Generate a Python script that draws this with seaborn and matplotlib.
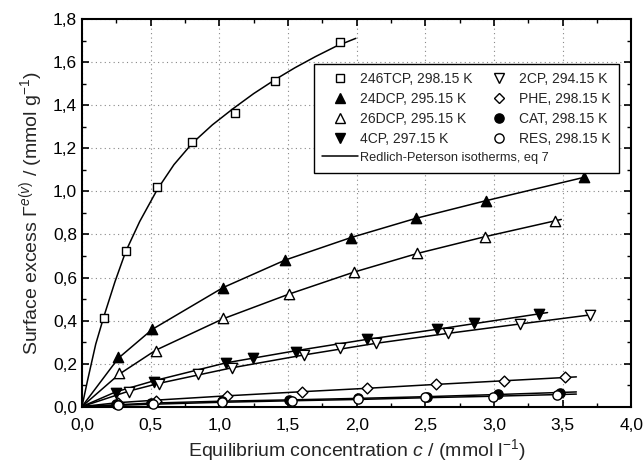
import matplotlib
matplotlib.use("Agg")
import matplotlib.pyplot as plt
from matplotlib.lines import Line2D
from matplotlib.ticker import MultipleLocator, FuncFormatter
import seaborn as sns
import pandas as pd

# ---------------- data ----------------
tcp246_x = [0.16, 0.318, 0.549, 0.804, 1.115, 1.406, 1.877]
tcp246_y = [0.410, 0.723, 1.022, 1.232, 1.364, 1.515, 1.697]
dcp24_x = [0.265, 0.512, 1.027, 1.479, 1.960, 2.431, 2.941, 3.658]
dcp24_y = [0.232, 0.359, 0.553, 0.681, 0.786, 0.875, 0.957, 1.066]
dcp26_x = [0.27, 0.537, 1.027, 1.508, 1.98, 2.443, 2.936, 3.444]
dcp26_y = [0.157, 0.260, 0.410, 0.523, 0.625, 0.712, 0.790, 0.864]
cp4_x = [0.245, 0.525, 1.047, 1.246, 1.561, 2.072, 2.582, 2.856, 3.325]
cp4_y = [0.064, 0.115, 0.201, 0.224, 0.255, 0.312, 0.359, 0.387, 0.430]
cp2_x = [0.342, 0.561, 0.848, 1.09, 1.617, 1.877, 2.14, 2.662, 3.189, 3.699]
cp2_y = [0.069, 0.103, 0.151, 0.178, 0.240, 0.271, 0.294, 0.340, 0.384, 0.426]
phe_x = [0.26, 0.541, 1.059, 1.60, 2.079, 2.577, 3.075, 3.519]
phe_y = [0.016, 0.027, 0.049, 0.069, 0.085, 0.105, 0.120, 0.136]
cat_x = [0.25, 0.50, 1.02, 1.51, 2.01, 2.509, 3.026, 3.48]
cat_y = [0.014, 0.018, 0.025, 0.030, 0.038, 0.046, 0.058, 0.064]
res_x = [0.265, 0.517, 1.022, 1.528, 2.013, 2.499, 2.99, 3.456]
res_y = [0.008, 0.010, 0.020, 0.027, 0.033, 0.043, 0.046, 0.053]

# Redlich-Peterson fitted curves (vertices)
fit_tcp246_x = [0.0, 0.04, 0.10, 0.16, 0.24, 0.318, 0.42, 0.549, 0.67,
                0.804, 0.95, 1.10, 1.25, 1.406, 1.55, 1.70, 1.85, 1.994]
fit_tcp246_y = [0.0, 0.12, 0.29, 0.42, 0.58, 0.720, 0.86, 1.010, 1.125,
                1.225, 1.31, 1.385, 1.455, 1.520, 1.575, 1.627, 1.675, 1.712]
fit_dcp24_x = [0.0, 0.265, 0.512, 1.027, 1.479, 1.960, 2.431, 2.941, 3.658]
fit_dcp24_y = [0.0, 0.225, 0.359, 0.553, 0.681, 0.786, 0.875, 0.957, 1.066]
fit_dcp26_x = [0.0, 0.27, 0.537, 1.027, 1.508, 1.98, 2.443, 2.936, 3.49]
fit_dcp26_y = [0.0, 0.150, 0.262, 0.408, 0.523, 0.625, 0.712, 0.790, 0.870]
fit_cp4_x = [0.0, 0.245, 0.525, 1.047, 1.561, 2.072, 2.582, 3.39]
fit_cp4_y = [0.0, 0.068, 0.120, 0.203, 0.260, 0.312, 0.359, 0.437]
fit_cp2_x = [0.0, 0.342, 0.561, 1.09, 1.617, 2.14, 2.662, 3.189, 3.699]
fit_cp2_y = [0.0, 0.072, 0.108, 0.180, 0.240, 0.294, 0.340, 0.384, 0.426]
fit_phe_x = [0.0, 0.26, 0.541, 1.059, 1.60, 2.079, 2.577, 3.075, 3.60]
fit_phe_y = [0.0, 0.018, 0.030, 0.050, 0.069, 0.085, 0.103, 0.120, 0.138]
fit_cat_x = [0.0, 0.5, 1.02, 1.51, 2.01, 2.509, 3.026, 3.60]
fit_cat_y = [0.0, 0.016, 0.025, 0.031, 0.038, 0.046, 0.056, 0.068]
fit_res_x = [0.0, 0.517, 1.022, 1.528, 2.013, 2.499, 2.99, 3.60]
fit_res_y = [0.0, 0.011, 0.020, 0.027, 0.033, 0.041, 0.048, 0.058]

labels = ["246TCP, 298.15 K", "24DCP, 295.15 K", "26DCP, 295.15 K",
          "4CP, 297.15 K", "2CP, 294.15 K", "PHE, 298.15 K",
          "CAT, 298.15 K", "RES, 298.15 K"]
line_label = "Redlich-Peterson isotherms, eq 7"
x_ticks = [0.0, 0.5, 1.0, 1.5, 2.0, 2.5, 3.0, 3.5, 4.0]
y_ticks = [0.0, 0.2, 0.4, 0.6, 0.8, 1.0, 1.2, 1.4, 1.6, 1.8]

# ---------------- style ----------------
sns.set_theme(style="ticks")
plt.rcParams["font.family"] = ["Liberation Sans", "DejaVu Sans"]
plt.rcParams["mathtext.fontset"] = "custom"
plt.rcParams["mathtext.rm"] = "Liberation Sans"
plt.rcParams["mathtext.it"] = "Liberation Sans:italic"
plt.rcParams["mathtext.bf"] = "Liberation Sans:bold"

fig = plt.figure(figsize=(6.44, 4.62), dpi=100)
ax = fig.add_axes([0.1273, 0.120, 0.853, 0.838])

series = [
    (tcp246_x, tcp246_y, fit_tcp246_x, fit_tcp246_y, "s", "white", 38),
    (dcp24_x, dcp24_y, fit_dcp24_x, fit_dcp24_y, "^", "black", 55),
    (dcp26_x, dcp26_y, fit_dcp26_x, fit_dcp26_y, "^", "white", 55),
    (cp4_x, cp4_y, fit_cp4_x, fit_cp4_y, "v", "black", 55),
    (cp2_x, cp2_y, fit_cp2_x, fit_cp2_y, "v", "white", 55),
    (phe_x, phe_y, fit_phe_x, fit_phe_y, "D", "white", 30),
    (cat_x, cat_y, fit_cat_x, fit_cat_y, "o", "black", 44),
    (res_x, res_y, fit_res_x, fit_res_y, "o", "white", 44),
]

for (px, py, fx, fy, mk, fc, s) in series:
    fit_df = pd.DataFrame({"c": fx, "g": fy})
    sns.lineplot(data=fit_df, x="c", y="g", ax=ax, color="black", lw=1.1,
                 sort=False, estimator=None, legend=False, zorder=2)
for (px, py, fx, fy, mk, fc, s) in series:
    pts_df = pd.DataFrame({"c": px, "g": py})
    sns.scatterplot(data=pts_df, x="c", y="g", ax=ax, marker=mk, s=s,
                    facecolor=fc, edgecolor="black", linewidth=1.0,
                    legend=False, zorder=3, clip_on=False)

ax.set_xlim(0, 4.0)
ax.set_ylim(0, 1.8)
ax.set_xticks(x_ticks)
ax.set_yticks(y_ticks)
ax.xaxis.set_minor_locator(MultipleLocator(0.25))
ax.yaxis.set_minor_locator(MultipleLocator(0.1))
fmt = FuncFormatter(lambda v, p: f"{v:.1f}".replace(".", ","))
ax.xaxis.set_major_formatter(fmt)
ax.yaxis.set_major_formatter(fmt)
ax.tick_params(which="both", direction="in", top=True, right=True,
               colors="black", labelsize=12.5)
ax.tick_params(which="major", length=5, width=1.2)
ax.tick_params(which="minor", length=3, width=1.0)
ax.tick_params(axis="x", pad=8)
for sp in ax.spines.values():
    sp.set_linewidth(1.5)
    sp.set_color("black")
ax.grid(True, which="major", linestyle=(0, (1, 3)), color="#888888", lw=0.8)
ax.set_axisbelow(True)

ax.set_xlabel(r"Equilibrium concentration $c$ / (mmol l$^{-1}$)",
              fontsize=14, labelpad=3)
ax.set_ylabel(r"Surface excess $\Gamma^{e(v)}$ / (mmol g$^{-1}$)",
              fontsize=14, labelpad=6)

# legend
def mh(mk, fc, s):
    return Line2D([], [], ls="none", marker=mk, markersize=s ** 0.5,
                  markerfacecolor=fc, markeredgecolor="black",
                  markeredgewidth=1.0)

hs = [mh(m[4], m[5], m[6]) for m in series]
handles = hs[:4] + [Line2D([], [], color="black", lw=1.1)] + hs[4:]
labs = labels[:4] + [line_label] + labels[4:]
leg = ax.legend(handles, labs, ncol=2, loc="upper right",
                bbox_to_anchor=(0.978, 0.885), fontsize=10,
                frameon=True, fancybox=False, edgecolor="black",
                framealpha=1.0, handlelength=2.6, handletextpad=0.15,
                labelspacing=0.42, columnspacing=-4.9, borderpad=0.6,
                borderaxespad=0.0)
leg.get_texts()[4].set_fontsize(9.2)
leg.get_frame().set_linewidth(1.0)

fig.savefig("out.png", dpi=100)
